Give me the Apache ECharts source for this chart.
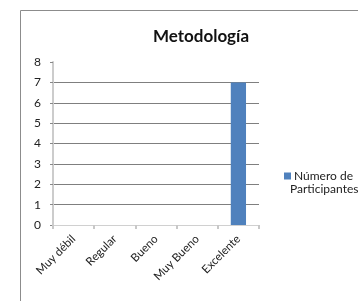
<!DOCTYPE html>
<html>
<head>
<meta charset="utf-8">
<script src="https://cdn.jsdelivr.net/npm/echarts@6/dist/echarts.min.js"></script>
<style>
  html, body { margin: 0; padding: 0; background: #fff; }
  #chart { width: 358px; height: 301px; }
</style>
</head>
<body>
<div id="chart"></div>
<script>
// categorías y valores
const categorias = ['Muy débil', 'Regular', 'Bueno', 'Muy Bueno', 'Excelente'];
const participantes = [0, 0, 0, 0, 7];
const serieNombre = 'Número de Participantes';
const yMax = 8;

const chart = echarts.init(document.getElementById('chart'));
const fuente = 'Lato, "Open Sans", sans-serif';

chart.setOption({
    animation: false,
    title: {
        text: 'Metodología',
        left: 196,
        textAlign: 'center',
        top: 23,
        textStyle: { fontFamily: fuente, fontSize: 17, fontWeight: 'bold', color: '#111' }
    },
    legend: {
        data: [serieNombre],
        left: 279,
        top: 165,
        itemWidth: 7,
        itemHeight: 7,
        itemGap: 0,
        icon: 'rect',
        formatter: () => 'Número de',
        textStyle: { fontFamily: fuente, fontSize: 12, color: '#222', padding: [0, 0, 0, -2] }
    },
    grid: { left: 53, right: 99, top: 62, bottom: 76 },
    xAxis: {
        type: 'category',
        data: categorias,
        axisLine: { show: true, lineStyle: { color: '#d0d0d0', width: 1 } },
        axisTick: { show: true, length: 4, lineStyle: { color: '#c8c8c8', width: 2 } },
        axisLabel: { rotate: 45, margin: 12, fontFamily: fuente, fontSize: 11.5, color: '#222', interval: 0 }
    },
    yAxis: {
        type: 'value',
        min: 0,
        max: yMax,
        interval: 1,
        axisLine: { show: true, lineStyle: { color: '#cccccc', width: 2 } },
        axisTick: { show: true, length: 3, lineStyle: { color: '#888' } },
        axisLabel: { margin: 12, fontFamily: fuente, fontSize: 12, color: '#222' },
        splitLine: { show: true, showMaxLine: false, showMinLine: false, lineStyle: { color: '#7f7f7f', width: 1 } }
    },
    series: [{
        name: serieNombre,
        type: 'bar',
        data: participantes,
        barWidth: '37%',
        itemStyle: { color: '#4F81BD' }
    }],
    graphic: [
        {
            type: 'rect',
            silent: true,
            shape: { x: 20.5, y: 10.5, width: 400, height: 400 },
            style: { fill: 'none', stroke: '#8c8c8c', lineWidth: 1 }
        },
        {
            type: 'text',
            left: 290,
            top: 183,
            style: { text: 'Participantes', fontFamily: fuente, fontSize: 12, fill: '#222' }
        }
    ]
});
</script>
</body>
</html>
